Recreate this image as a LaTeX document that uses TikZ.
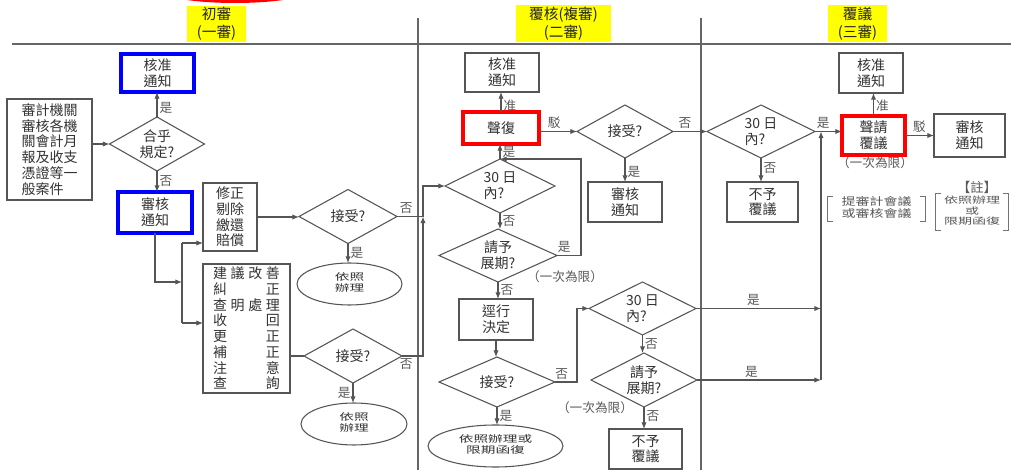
\documentclass[tikz,border=0pt]{standalone}
\usepackage{fontspec}
\usepackage{graphicx}
\setmainfont{Noto Sans CJK TC}
\usetikzlibrary{arrows.meta,shapes.geometric}
\newdimen\pxu \pxu=0.75pt
\newcommand\sqz[2]{\scalebox{1}[#1]{\begin{tabular}{@{}c@{}}#2\end{tabular}}}
\definecolor{lncol}{HTML}{555555}
\definecolor{txcol}{HTML}{333333}
\definecolor{ttlcol}{HTML}{FFFF00}
\tikzset{
 base/.style={font=\fontsize{10.5}{11.8}\selectfont, text=txcol, inner sep=0pt, outer sep=0pt, align=center},
 box/.style={base, draw=lncol, line width=0.8pt, rectangle},
 bluebox/.style={box, draw=blue, line width=2.6pt},
 redbox/.style={box, draw=red, line width=2.6pt},
 dia/.style={base, draw=lncol, line width=0.8pt, diamond, shape aspect=2},
 oval/.style={base, draw=lncol, line width=0.8pt, ellipse, font=\fontsize{11}{11.8}\selectfont},
 arr/.style={draw=lncol, line width=0.8pt, -{Latex[length=5pt,width=4pt]}},
 plain/.style={draw=lncol, line width=0.8pt},
 frame/.style={draw=black!60, line width=0.8pt},
 brk/.style={draw=black!55, line width=0.6pt},
 lbl/.style={font=\fontsize{9.5}{10}\selectfont, text=black!65, inner sep=1.5pt},
 note/.style={font=\fontsize{9.5}{10}\selectfont, text=black!65, inner sep=0pt, align=center},
 ttlbox/.style={fill=ttlcol, text=black!85, font=\fontsize{11}{13.5}\selectfont, align=center, inner sep=0pt},
 sz/.style 2 args={minimum width=#1\pxu, minimum height=#2\pxu},
}
\begin{document}
\begin{tikzpicture}[x=0.75pt,y=-0.75pt]
\useasboundingbox (0,0) rectangle (1011,470);
\fill[white] (0,0) rectangle (1011,470);
\begin{scope}
\clip (0,0) rectangle (1011,470);
\draw[red, line width=3pt] (235,-14) ellipse [x radius=80, y radius=15];
\end{scope}
% frame lines
\draw[frame] (12,44) -- (1011,44);
\draw[frame] (418,18) -- (418,470);
\draw[frame] (701,18) -- (701,470);
% titles
\node[ttlbox, sz={59}{36}] (t1) at (216.5,24) {初審\\(一審)};
\node[ttlbox, sz={95}{37}] (t2) at (563.5,23.5) {覆核(複審)\\(二審)};
\node[ttlbox, sz={59}{37}] (t3) at (857.5,23.5) {覆議\\(三審)};

% ---- left column
\node[box, sz={85}{101}, align=left] (src) at (49.5,149.5) {審計機關\\審核各機\\關會計月\\報及收支\\憑證等一\\般案件};
\node[dia, sz={95}{54}] (q1) at (157,144) {合乎\\規定?};
\node[bluebox, sz={73}{38}] (ok1) at (157.5,73) {核准\\通知};
\node[bluebox, sz={74}{41}] (rev1) at (155,212.5) {審核\\通知};
\node[box, sz={54}{68}] (fix) at (230,217) {修正\\剔除\\繳還\\賠償};
\node[box, sz={87}{129}] (adv) at (246.5,328.5) {%
\makebox[50pt]{建\hfill 議\hfill 改\hfill 善}\\
\makebox[50pt]{糾\hfill 正}\\
\makebox[50pt]{查\hfill 明\hfill 處\hfill 理}\\
\makebox[50pt]{收\hfill 回}\\
\makebox[50pt]{更\hfill 正}\\
\makebox[50pt]{補\hfill 正}\\
\makebox[50pt]{注\hfill 意}\\
\makebox[50pt]{查\hfill 詢}};
\node[dia, sz={98}{54}] (acc1) at (348,216.5) {接受?};
\node[dia, sz={98}{54}] (acc2) at (353,356) {接受?};
\node[oval, sz={105}{42}] (do1) at (349.5,284) {\sqz{0.64}{依照\\辦理}};
\node[oval, sz={106}{42}] (do2) at (354,424) {\sqz{0.64}{依照\\辦理}};

% ---- middle column
\node[box, sz={74}{39}] (ok2) at (502,72.5) {核准\\通知};
\node[redbox, sz={76}{32}] (rep) at (501,128) {聲復};
\node[dia, sz={96}{53}] (acc3) at (625,131.5) {接受?};
\node[box, sz={74}{40}] (rev2) at (625,202) {審核\\通知};
\node[dia, sz={110}{54}, align=left] (d30a) at (500,186) {30 日\\內?};
\node[dia, sz={118}{53}] (ext1) at (498,255.5) {請予\\展期?};
\node[box, sz={74}{41}] (dec) at (496,319.5) {逕行\\決定};
\node[dia, sz={116}{50}] (acc4) at (497,382) {接受?};
\node[oval, sz={135}{42}] (do3) at (495.5,446) {\sqz{0.64}{依照辦理或\\限期函復}};
\node[dia, sz={107}{53}, align=left] (d30b) at (642.5,308.5) {30 日\\內?};
\node[dia, sz={106}{54}] (ext2) at (644,380) {請予\\展期?};
\node[box, sz={73}{40}] (no1) at (645.5,449) {不予\\覆議};
\node[note] (lim1) at (565,277) {（一次為限）};
\node[note] (lim2) at (595,408) {（一次為限）};

% ---- right column
\node[dia, sz={108}{53}, align=left] (d30c) at (761,131.5) {30 日\\內?};
\node[box, sz={71}{40}] (no2) at (762.5,202) {不予\\覆議};
\node[redbox, sz={63}{39}] (req) at (873.5,135.5) {聲請\\覆議};
\node[box, sz={64}{40}] (ok3) at (871,73) {核准\\通知};
\node[box, sz={71}{43}] (rev3) at (969.5,135.5) {審核\\通知};
\node[note] (lim3) at (875,163) {（一次為限）};
\node[note, font=\fontsize{10}{10}\selectfont] (nb) at (977,187) {【註】};
\node[note, sz={97}{24}, font=\fontsize{10.5}{11.8}\selectfont] (note1) at (876.5,209) {\sqz{0.76}{提審計會議\\或審核會議}};
\node[note, sz={72}{36}, font=\fontsize{10.5}{11.8}\selectfont] (note2) at (972,212) {\sqz{0.64}{依照辦理\\或\\限期函復}};
\draw[brk] ([xshift=4pt]note1.north west) -- (note1.north west) -- (note1.south west) -- ([xshift=4pt]note1.south west);
\draw[brk] ([xshift=-4pt]note1.north east) -- (note1.north east) -- (note1.south east) -- ([xshift=-4pt]note1.south east);
\draw[brk] ([xshift=4pt]note2.north west) -- (note2.north west) -- (note2.south west) -- ([xshift=4pt]note2.south west);
\draw[brk] ([xshift=-4pt]note2.north east) -- (note2.north east) -- (note2.south east) -- ([xshift=-4pt]note2.south east);

% ---- helper coordinates
\coordinate (j1) at (182,282);
\coordinate (jt) at (182,243);
\coordinate (jb) at (182,323);
\coordinate (m1) at (423,216.5);
\coordinate (r1) at (581,159);
\coordinate (r2) at (577,308.5);
\coordinate (v1) at (821,308.5);
\coordinate (v2) at (821,380);

% ---- connectors left
\draw[arr] (src.east |- q1.west) -- (q1.west);
\draw[arr] (q1.north) -- node[lbl,right,pos=.35]{是} (q1.north |- ok1.south);
\draw[arr] (q1.south) -- node[lbl,right]{否} (q1.south |- rev1.north);
\draw[arr] (rev1.south) |- (j1);
\draw[plain] (jt) -- (jb);
\draw[arr] (jt) -- (jt -| fix.west);
\draw[arr] (jb) -- (jb -| adv.west);
\draw[arr] (fix.east) -- (fix.east -| acc1.west);
\draw[arr] (acc1.south) -- node[lbl,right]{是} (acc1.south |- do1.north);
\draw[plain] (adv.east |- acc2.west) -- (acc2.west);
\draw[arr] (acc2.south) -- node[lbl,left]{是} (acc2.south |- do2.north);
\draw[arr] (acc1.east) -- node[lbl,above,pos=.35]{否} (m1) |- (d30a.west);
\draw[arr] (acc2.east) -- node[lbl,below,pos=.2]{否} (acc2.east -| m1) -- (m1);

% ---- connectors middle
\draw[arr] (rep.north) -- node[lbl,right,pos=.3]{准} (rep.north |- ok2.south);
\draw[arr] (rep.east |- acc3.west) -- node[lbl,above,pos=.4]{駁} (acc3.west);
\draw[arr] (acc3.east) -- node[lbl,above,pos=.35]{否} (d30c.west);
\draw[arr] (acc3.south) -- node[lbl,right,pos=.6]{是} (rev2.north);
\draw[arr] (d30a.north) -- node[lbl,right]{是} (d30a.north |- rep.south);
\draw[arr] (d30a.south) -- node[lbl,right]{否} (d30a.south |- ext1.north);
\draw[arr] (ext1.east) -- node[lbl,above,pos=.3]{是} (ext1.east -| r1) -- (r1) -- (d30a.north);
\draw[arr] (ext1.south) -- node[lbl,right]{否} (ext1.south |- dec.north);
\draw[arr] (dec.south) -- (dec.south |- acc4.north);
\draw[arr] (acc4.east) -- node[lbl,above,pos=.3]{否} (acc4.east -| r2) -- (r2) -- (d30b.west);
\draw[arr] (acc4.south) -- node[lbl,right]{是} (acc4.south |- do3.north);
\draw[arr] (d30b.east) -- node[lbl,above,pos=.46]{是} (v1);
\draw[arr] (d30b.south) -- node[lbl,right]{否} (d30b.south |- ext2.north);
\draw[arr] (ext2.east) -- node[lbl,above,pos=.44]{是} (v2);
\draw[arr] (ext2.south) -- node[lbl,right,pos=.4]{否} (ext2.south |- no1.north);

% ---- connectors right
\draw[arr] (d30c.east) -- node[lbl,above,pos=.3]{是} (d30c.east -| req.west);
\draw[arr] (v2) -- (v2 |- d30c.east);
\draw[arr] (d30c.south) -- node[lbl,right,pos=.4]{否} (d30c.south |- no2.north);
\draw[arr] (req.north) -- node[lbl,right,pos=.45]{准} (req.north |- ok3.south);
\draw[arr] (req.east) -- node[lbl,above]{駁} (req.east -| rev3.west);
\end{tikzpicture}
\end{document}
